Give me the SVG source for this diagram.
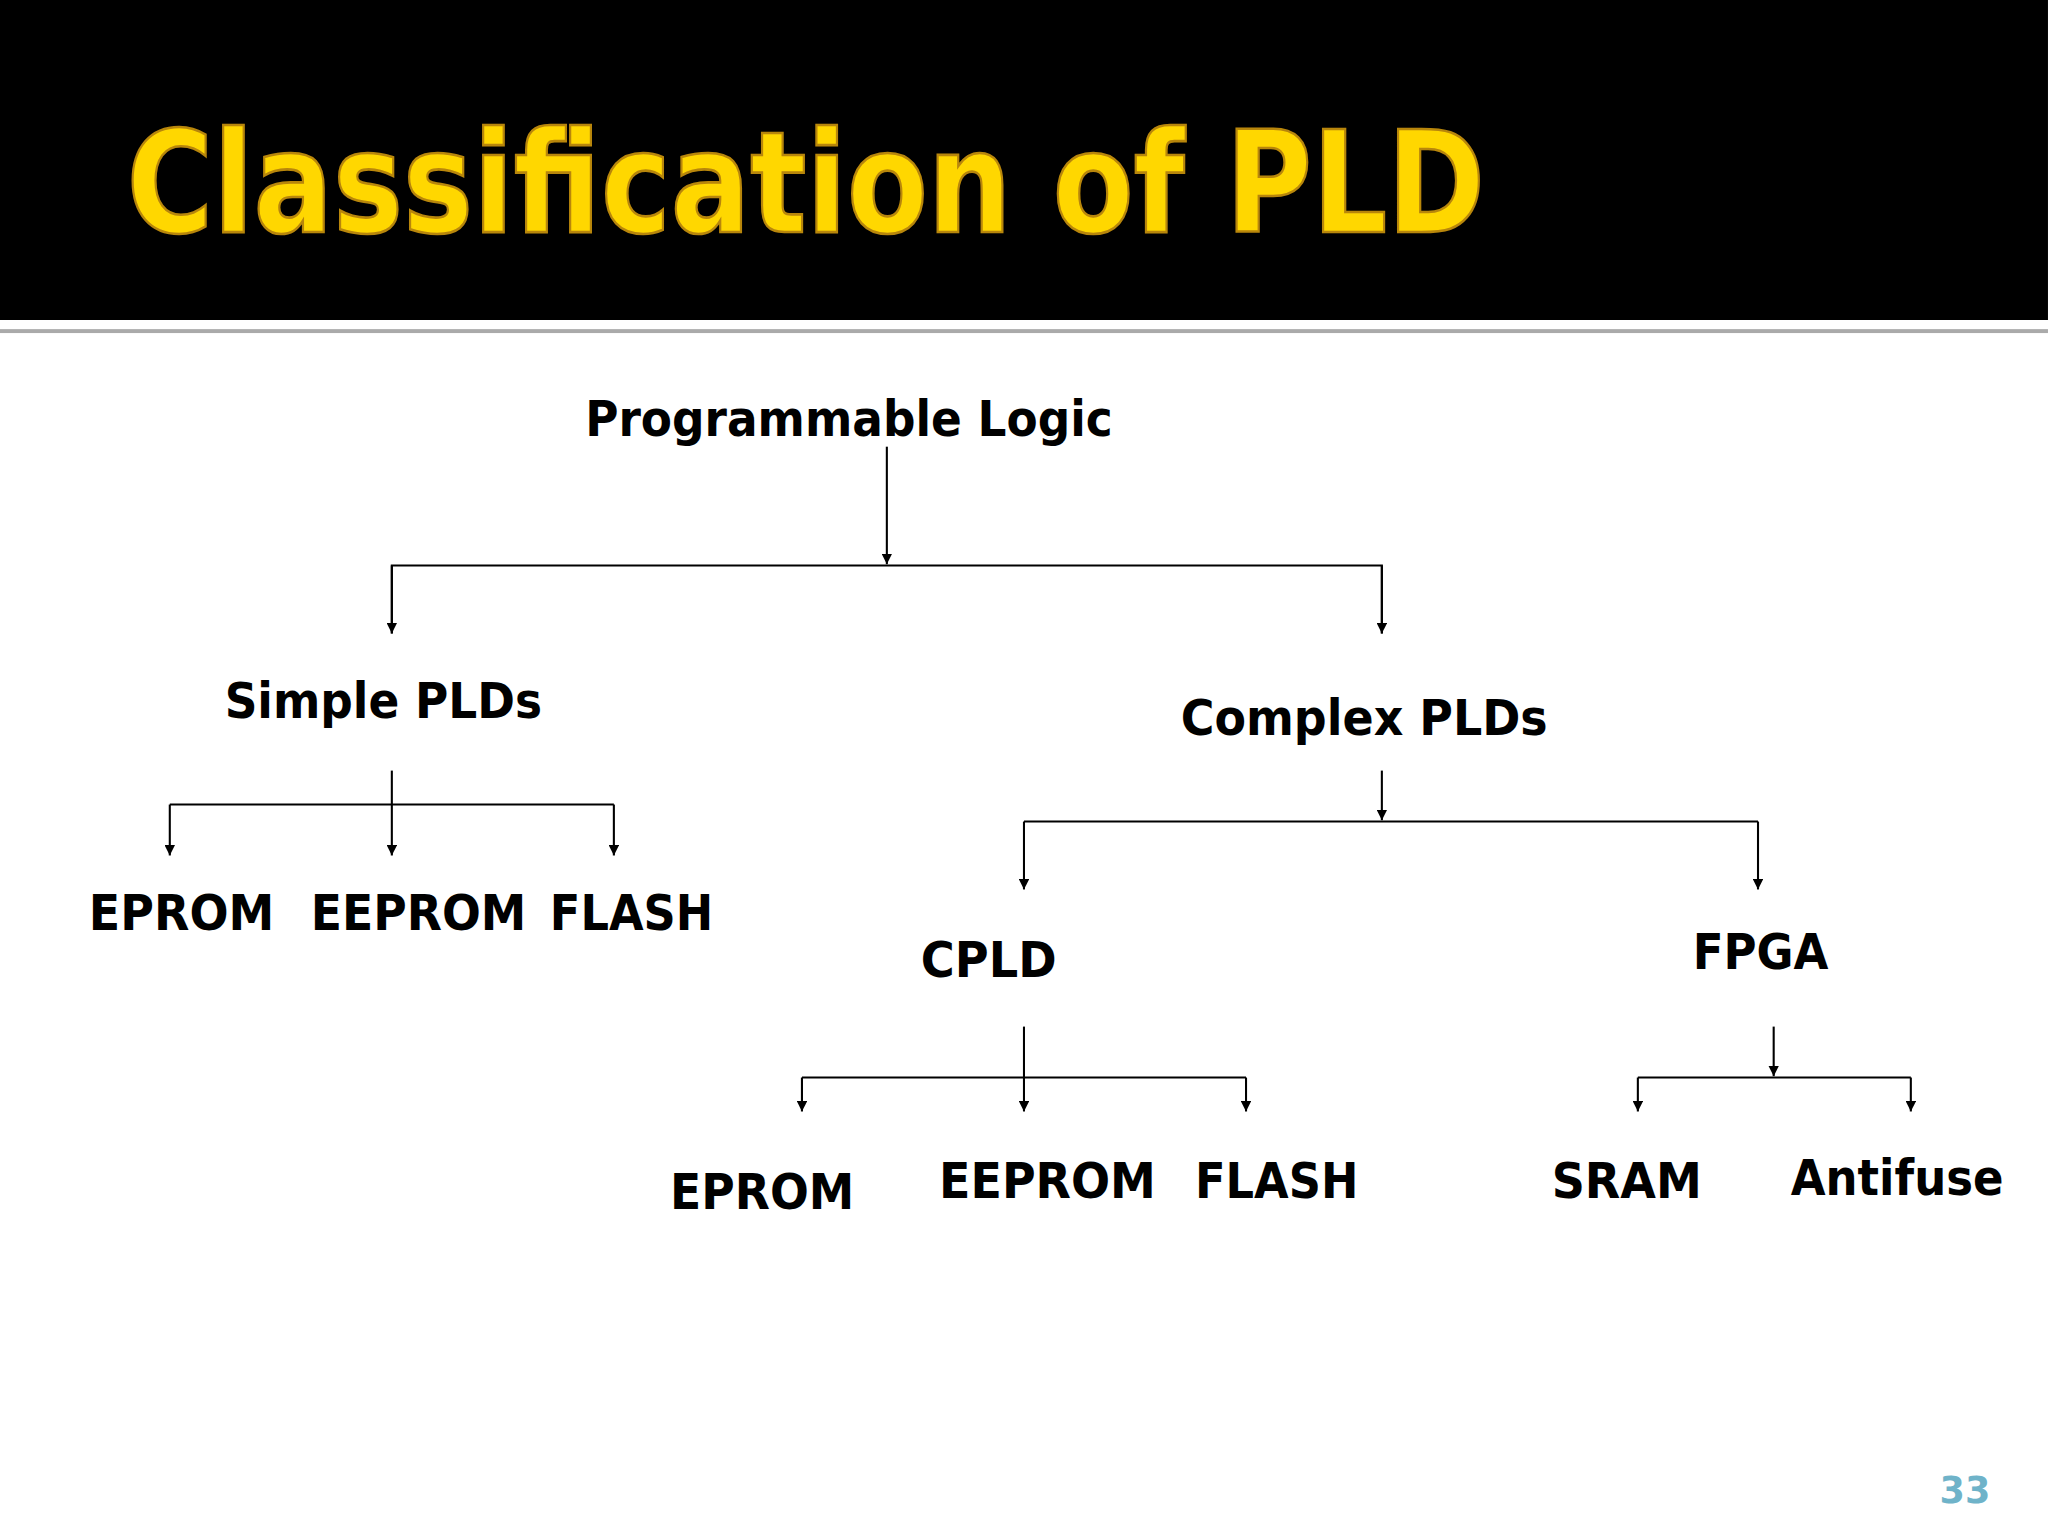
<svg xmlns="http://www.w3.org/2000/svg" width="2048" height="1536" viewBox="0 0 2048 1536">
<defs>
<marker id="ah" viewBox="0 0 10 10" refX="10" refY="5" markerWidth="8" markerHeight="8" markerUnits="userSpaceOnUse" orient="auto"><path d="M0,0 L10,5 L0,10 z" fill="#000"/></marker>
<style>
.t{font-family:"DejaVu Sans",Verdana,sans-serif;font-weight:bold;fill:#000;font-size:38px}
.c{fill:none;stroke:#000;stroke-width:1.6}
.a{fill:none;stroke:#000;stroke-width:1.6;marker-end:url(#ah)}
</style>
</defs>
<rect width="2048" height="1536" fill="#fff"/>
<g transform="scale(1.3061)">
<rect x="0" y="0" width="1568" height="245" fill="#000"/>
<rect x="0" y="252" width="1568" height="3" fill="#aaa"/>
<text x="97" y="178" font-family="'DejaVu Sans',Verdana,sans-serif" font-weight="bold" font-size="108" fill="#FFD700" stroke="#b8860b" stroke-width="2" textLength="1040" lengthAdjust="spacingAndGlyphs">Classification of PLD</text>
<g id="connectors">
<line class="a" x1="679" y1="342" x2="679" y2="432"/>
<polyline class="c" points="300,485 300,433 1058,433 1058,485"/>
<line class="a" x1="300" y1="433" x2="300" y2="485"/>
<line class="a" x1="1058" y1="433" x2="1058" y2="485"/>
<line class="a" x1="300" y1="590" x2="300" y2="655"/>
<line class="c" x1="130" y1="616" x2="470" y2="616"/>
<line class="a" x1="130" y1="616" x2="130" y2="655"/>
<line class="a" x1="470" y1="616" x2="470" y2="655"/>
<line class="a" x1="1058" y1="590" x2="1058" y2="628"/>
<line class="c" x1="784" y1="629" x2="1346" y2="629"/>
<line class="a" x1="784" y1="629" x2="784" y2="681"/>
<line class="a" x1="1346" y1="629" x2="1346" y2="681"/>
<line class="a" x1="784" y1="786" x2="784" y2="851"/>
<line class="c" x1="614" y1="825" x2="954" y2="825"/>
<line class="a" x1="614" y1="825" x2="614" y2="851"/>
<line class="a" x1="954" y1="825" x2="954" y2="851"/>
<line class="a" x1="1358" y1="786" x2="1358" y2="824"/>
<line class="c" x1="1254" y1="825" x2="1463" y2="825"/>
<line class="a" x1="1254" y1="825" x2="1254" y2="851"/>
<line class="a" x1="1463" y1="825" x2="1463" y2="851"/>
</g>
<g id="n-root"><text class="t" x="448" y="334" textLength="404" lengthAdjust="spacingAndGlyphs">Programmable Logic</text></g>
<g id="n-simple"><text class="t" x="172" y="550" textLength="243" lengthAdjust="spacingAndGlyphs">Simple PLDs</text></g>
<g id="n-complex"><text class="t" x="904" y="563" textLength="281" lengthAdjust="spacingAndGlyphs">Complex PLDs</text></g>
<g id="n-s-eprom"><text class="t" x="68" y="712" textLength="142" lengthAdjust="spacingAndGlyphs">EPROM</text></g>
<g id="n-s-eeprom"><text class="t" x="238" y="712" textLength="165" lengthAdjust="spacingAndGlyphs">EEPROM</text></g>
<g id="n-s-flash"><text class="t" x="421" y="712" textLength="125" lengthAdjust="spacingAndGlyphs">FLASH</text></g>
<g id="n-cpld"><text class="t" x="705" y="748" textLength="104" lengthAdjust="spacingAndGlyphs">CPLD</text></g>
<g id="n-fpga"><text class="t" x="1296" y="742" textLength="104" lengthAdjust="spacingAndGlyphs">FPGA</text></g>
<g id="n-c-eprom"><text class="t" x="513" y="926" textLength="141" lengthAdjust="spacingAndGlyphs">EPROM</text></g>
<g id="n-c-eeprom"><text class="t" x="719" y="917" textLength="166" lengthAdjust="spacingAndGlyphs">EEPROM</text></g>
<g id="n-c-flash"><text class="t" x="915" y="917" textLength="125" lengthAdjust="spacingAndGlyphs">FLASH</text></g>
<g id="n-sram"><text class="t" x="1188" y="917" textLength="115" lengthAdjust="spacingAndGlyphs">SRAM</text></g>
<g id="n-antifuse"><text class="t" x="1371" y="915" textLength="163" lengthAdjust="spacingAndGlyphs">Antifuse</text></g>
<text x="1485" y="1151" font-family="'DejaVu Sans',Verdana,sans-serif" font-weight="bold" font-size="28" fill="#6fb3c9">33</text>
</g>
</svg>
